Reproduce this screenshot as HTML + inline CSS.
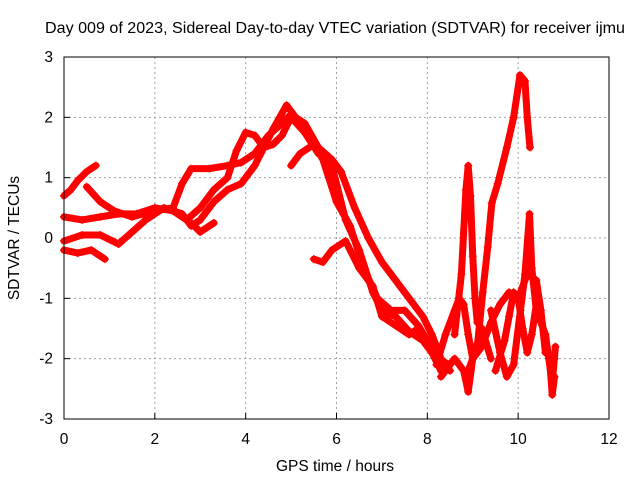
<!DOCTYPE html>
<html><head><meta charset="utf-8"><style>
body{margin:0;background:#fff;}
svg text{font-family:"Liberation Sans",sans-serif;font-size:15.5px;fill:#000;}
</style></head><body>
<svg width="640" height="480" viewBox="0 0 640 480" xmlns="http://www.w3.org/2000/svg">
<text x="335" y="33" text-anchor="middle" textLength="580" lengthAdjust="spacingAndGlyphs">Day 009 of 2023, Sidereal Day-to-day VTEC variation (SDTVAR) for receiver ijmu</text>
<g id="grid"></g>
<g id="ticks"></g>
<g id="series"></g>
<rect x="64" y="57" width="545" height="362" fill="none" stroke="#000" stroke-width="1"/>
<text x="335" y="471" text-anchor="middle">GPS time / hours</text>
<text transform="translate(19,238) rotate(-90)" text-anchor="middle">SDTVAR / TECUs</text>
</svg>
<script>
const xTicks=[0,2,4,6,8,10,12];
const yTicks=[-3,-2,-1,0,1,2,3];
const track1=[[0,0.7],[0.15,0.8],[0.3,0.95],[0.5,1.1],[0.7,1.2]];
const track2=[[0.5,0.85],[0.8,0.6],[1.1,0.45],[1.5,0.35],[2,0.45],[2.4,0.5],[2.6,0.9],[2.8,1.15],[3.2,1.15],[3.6,1.2],[3.9,1.25],[4.2,1.4],[4.5,1.7],[4.8,1.9],[5.0,2.05],[5.3,1.9],[5.6,1.5],[5.9,1.3],[6.1,1.1],[6.4,0.5],[6.7,0],[7.0,-0.4],[7.3,-0.7],[7.6,-1.0],[7.9,-1.3],[8.1,-1.6],[8.3,-2.0],[8.5,-2.2]];
const track3=[[0,0.35],[0.4,0.3],[0.8,0.35],[1.2,0.4],[1.6,0.4],[2.0,0.5],[2.4,0.45],[2.7,0.3],[3.0,0.5],[3.3,0.8],[3.6,1.0],[3.8,1.45],[4.0,1.75],[4.2,1.7],[4.4,1.5],[4.6,1.8],[4.9,2.2],[5.1,2.0],[5.4,1.7],[5.7,1.3],[6.0,0.6],[6.3,0.2],[6.6,-0.5],[6.9,-1.0],[7.2,-1.2],[7.5,-1.2],[7.8,-1.45],[8.0,-1.7],[8.2,-2.0]];
const track4=[[0,-0.05],[0.4,0.05],[0.8,0.05],[1.2,-0.1],[1.5,0.1],[1.8,0.3],[2.2,0.5],[2.6,0.4],[2.8,0.2],[3.0,0.3],[3.3,0.6],[3.6,0.8],[3.9,0.9],[4.2,1.2],[4.4,1.5],[4.6,1.55],[4.8,1.7],[5.0,2.0],[5.3,1.75],[5.6,1.4],[5.9,1.2],[6.2,0.3],[6.5,-0.2],[6.8,-0.9],[7.0,-1.2],[7.3,-1.3],[7.6,-1.55],[7.9,-1.7],[8.2,-2.0],[8.5,-2.1]];
const track5=[[0,-0.2],[0.3,-0.25],[0.6,-0.2],[0.9,-0.35]];
const track6=[[2.8,0.25],[3.0,0.1],[3.3,0.25]];
const track7=[[5.5,-0.35],[5.7,-0.4],[5.9,-0.2],[6.2,-0.05],[6.5,-0.5],[6.8,-0.8],[7.0,-1.3],[7.3,-1.45],[7.6,-1.6],[7.8,-1.5],[8.0,-1.75],[8.3,-2.2]];
const track8=[[5.0,1.2],[5.2,1.4],[5.5,1.55]];
const track9=[[8.2,-2.1],[8.4,-1.6],[8.6,-1.2],[8.7,-1.0],[8.8,-1.1],[8.9,-1.6],[9.0,-2.0],[9.2,-1.8],[9.4,-1.4],[9.6,-1.1],[9.8,-0.9],[10.0,-1.0],[10.2,-0.6],[10.4,-0.7],[10.5,-1.2],[10.6,-1.9],[10.8,-2.0]];
const track10=[[8.9,-2.2],[9.1,-1.8],[9.22,-0.9],[9.33,-0.15],[9.42,0.58],[9.55,0.9],[9.75,1.5],[9.9,2.0],[10.04,2.7],[10.15,2.6],[10.2,2.0],[10.26,1.5]];
const track11=[[8.6,-1.6],[8.75,-0.6],[8.85,0.8],[8.9,1.2],[8.95,0.7],[9.0,-0.3],[9.05,-1.0],[9.1,-1.4]];
const track12=[[9.5,-2.2],[9.7,-1.7],[9.8,-1.3],[9.9,-0.9],[10.0,-1.0],[10.1,-1.5],[10.2,-1.9],[10.3,-1.6],[10.4,-1.1],[10.5,-1.3],[10.6,-1.7],[10.7,-2.1],[10.75,-2.6],[10.8,-2.3]];
const track13=[[9.4,-1.2],[9.6,-1.9],[9.75,-2.3],[9.9,-2.1],[10.05,-1.2],[10.15,-0.6],[10.25,0.4],[10.3,-0.5],[10.4,-1.2],[10.6,-1.6],[10.75,-2.4],[10.82,-1.8]];
const track14=[[8.3,-2.3],[8.6,-2.0],[8.8,-2.2],[8.9,-2.55],[9.0,-2.0],[9.2,-1.5],[9.4,-2.0]];
const tracks=[track1,track2,track3,track4,track5,track6,track7,track8,track9,track10,track11,track12,track13,track14];

const X0=64,X1=609,Y0=419,Y1=57;
const xs=t=>X0+(t-0)/(12-0)*(X1-X0);
const ys=v=>Y0-(v+3)/6*(Y0-Y1);
const NS='http://www.w3.org/2000/svg';
const grid=document.getElementById('grid'),ticks=document.getElementById('ticks'),ser=document.getElementById('series');
function mk(tag,attrs,parent){const e=document.createElementNS(NS,tag);for(const k in attrs)e.setAttribute(k,attrs[k]);parent.appendChild(e);return e;}
xTicks.forEach(t=>{
  const x=xs(t);
  if(t>0&&t<12){const g=mk('line',{x1:x,x2:x,y1:Y1,y2:Y0,stroke:'#a0a0a0','stroke-dasharray':'2,3'},grid);
  
  }
  const l=mk('line',{x1:x,x2:x,y1:Y0,y2:Y0-6,stroke:'#000'},ticks);
  
  
  const tx=mk('text',{x:x,y:Y0+25,'text-anchor':'middle'},ticks);tx.textContent=t;
  
  
});
yTicks.forEach(v=>{
  const y=ys(v);
  if(v>-3&&v<3){const g=mk('line',{x1:X0,x2:X1,y1:y,y2:y,stroke:'#a0a0a0','stroke-dasharray':'2,3'},grid);
  
  }
  const l=mk('line',{x1:X0,x2:X0+6,y1:y,y2:y,stroke:'#000'},ticks);
  
  
  const tx=mk('text',{x:X0-11,y:y+5,'text-anchor':'end'},ticks);tx.textContent=v;
  
  
});
tracks.forEach((tr,i)=>{
  const p=mk('polyline',{points:tr.map(d=>xs(d[0])+','+ys(d[1])).join(' '),fill:'none',stroke:'#ff0000','stroke-width':7,'stroke-linejoin':'round','stroke-linecap':'round'},ser);
  
  
  tr.forEach(d=>{
    const m=mk('path',{d:`M${xs(d[0])-4},${ys(d[1])}h8M${xs(d[0])},${ys(d[1])-4}v8`,stroke:'#ff0000','stroke-width':1.2},ser);
    
    
  });
});
</script>
</body></html>
